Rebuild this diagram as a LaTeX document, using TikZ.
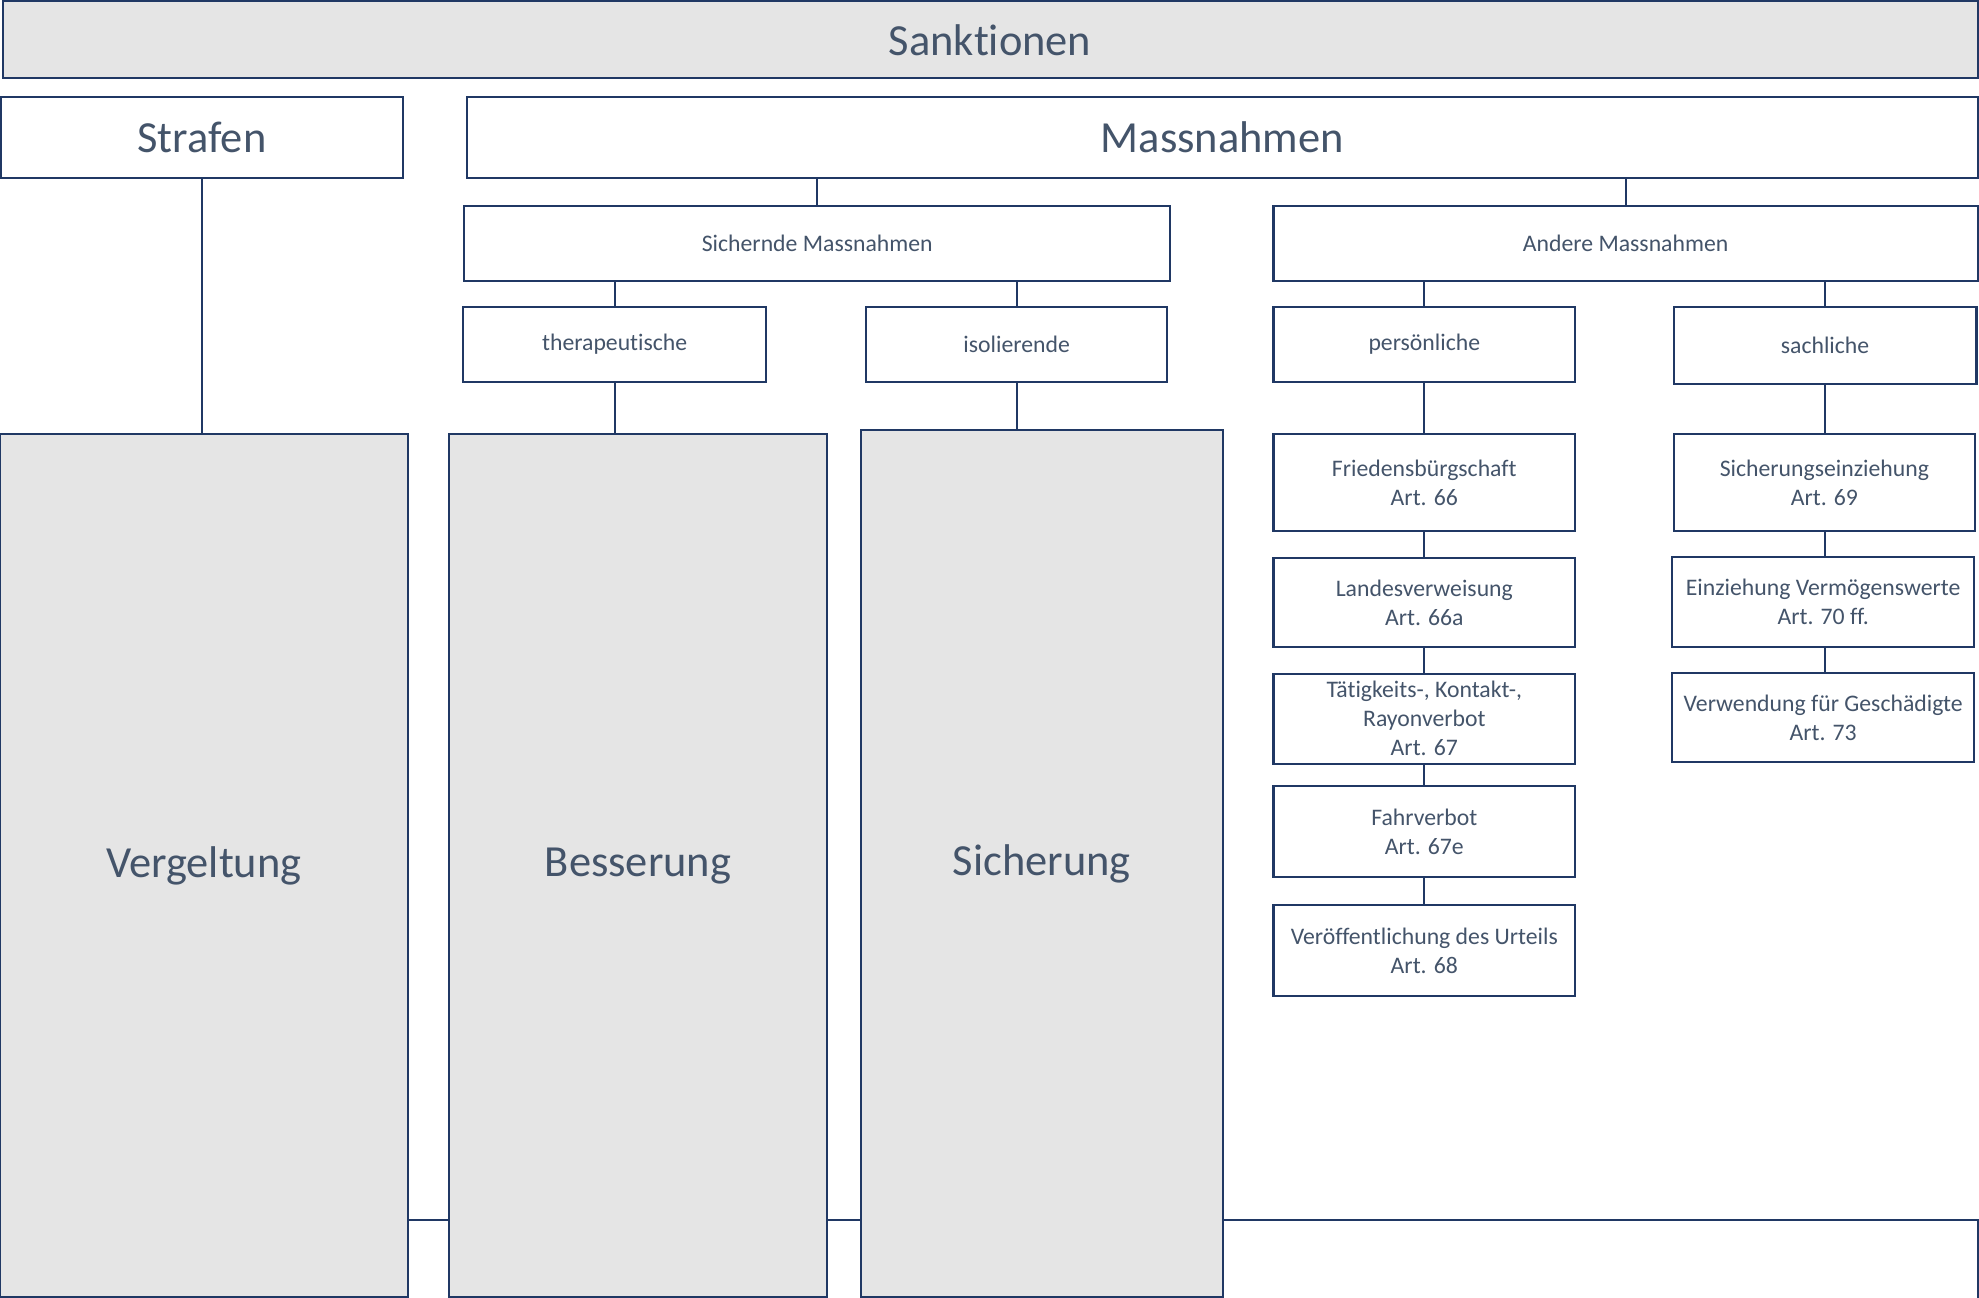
\documentclass[tikz,border=0pt]{standalone}
\usepackage{fontspec}
\setmainfont[Ligatures=NoCommon]{Carlito}
\definecolor{navy}{HTML}{203864}
\definecolor{txt}{HTML}{44546A}
\definecolor{graybg}{HTML}{E5E5E5}
\begin{document}
\begin{tikzpicture}[x=0.5pt,y=-0.5pt,
  corners/.style n args={4}{at={({(#1+#3)/2},{(#2+#4)/2})}, minimum width={(#3-#1)*0.5pt}, minimum height={(#4-#2)*0.5pt}},
  box/.style={draw=navy, line width=0.8pt, inner sep=0pt, align=center, text=txt, fill=white, anchor=center},
  graybox/.style={box, fill=graybg},
  big/.style={font=\fontsize{17.6}{21}\selectfont},
  small/.style={font=\fontsize{9.4}{11.5}\selectfont},
  conn/.style={draw=navy, line width=0.7pt}]
\useasboundingbox (0,0) rectangle (1568,1028);
\clip (0,0) rectangle (1568,1028);
% top
\node[graybox, big, corners={2}{1}{1567}{62}] (sank) {Sanktionen};
\node[box, big, corners={1}{77}{319}{141}] (straf) {Strafen};
\node[box, big, corners={370}{77}{1567}{141}] (mass) {Massnahmen};
% second level
\node[box, small, corners={368}{163}{927}{223}] (sich) {Sichernde Massnahmen};
\node[box, small, corners={1009}{163}{1567}{223}] (andere) {Andere Massnahmen};
% third level
\node[box, small, corners={367}{243}{607}{303}] (thera) {therapeutische};
\node[box, small, corners={686}{243}{925}{303}] (iso) {isolierende};
\node[box, small, corners={1009}{243}{1248}{303}] (pers) {persönliche};
\node[box, small, corners={1326}{243}{1566}{304}] (sach) {sachliche};
% bottom band
\node[box, corners={100}{967}{1567}{1030}] (band) {};
% columns
\node[graybox, big, corners={0}{344}{323}{1028}] (verg) {Vergeltung};
\node[graybox, big, corners={356}{344}{655}{1028}] (bess) {Besserung};
\node[graybox, big, corners={682}{341}{969}{1028}] (sicher) {Sicherung};
% persönliche list
\node[box, small, corners={1009}{344}{1248}{421}] (p1) {Friedensbürgschaft\\Art. 66};
\node[box, small, corners={1009}{442}{1248}{513}] (p2) {Landesverweisung\\Art. 66a};
\node[box, small, corners={1009}{534}{1248}{605}] (p3) {Tätigkeits-, Kontakt-,\\Rayonverbot\\Art. 67};
\node[box, small, corners={1009}{623}{1248}{695}] (p4) {Fahrverbot\\Art. 67e};
\node[box, small, corners={1009}{717}{1248}{789}] (p5) {Veröffentlichung des Urteils\\Art. 68};
% sachliche list
\node[box, small, corners={1326}{344}{1565}{421}] (s1) {Sicherungseinziehung\\Art. 69};
\node[box, small, corners={1325}{441}{1564}{513}] (s2) {Einziehung Vermögenswerte\\Art. 70 ff.};
\node[box, small, corners={1325}{533}{1564}{604}] (s3) {Verwendung für Geschädigte\\Art. 73};
% connectors
\draw[conn] (sich.north) -- (sich.north |- mass.south);
\draw[conn] (andere.north) -- (andere.north |- mass.south);
\draw[conn] (thera.north) -- (thera.north |- sich.south);
\draw[conn] (iso.north) -- (iso.north |- sich.south);
\draw[conn] (pers.north) -- (pers.north |- andere.south);
\draw[conn] (sach.north) -- (sach.north |- andere.south);
\draw[conn] (straf.south) -- (straf.south |- verg.north);
\draw[conn] (thera.south) -- (thera.south |- bess.north);
\draw[conn] (iso.south) -- (iso.south |- sicher.north);
\draw[conn] (pers.south) -- (p1.north);
\draw[conn] (p1.south) -- (p2.north);
\draw[conn] (p2.south) -- (p3.north);
\draw[conn] (p3.south) -- (p4.north);
\draw[conn] (p4.south) -- (p5.north);
\draw[conn] (sach.south) -- (sach.south |- s1.north);
\draw[conn] (s1.south -| sach.south) -- (sach.south |- s2.north);
\draw[conn] (s2.south -| sach.south) -- (sach.south |- s3.north);
\end{tikzpicture}
\end{document}
